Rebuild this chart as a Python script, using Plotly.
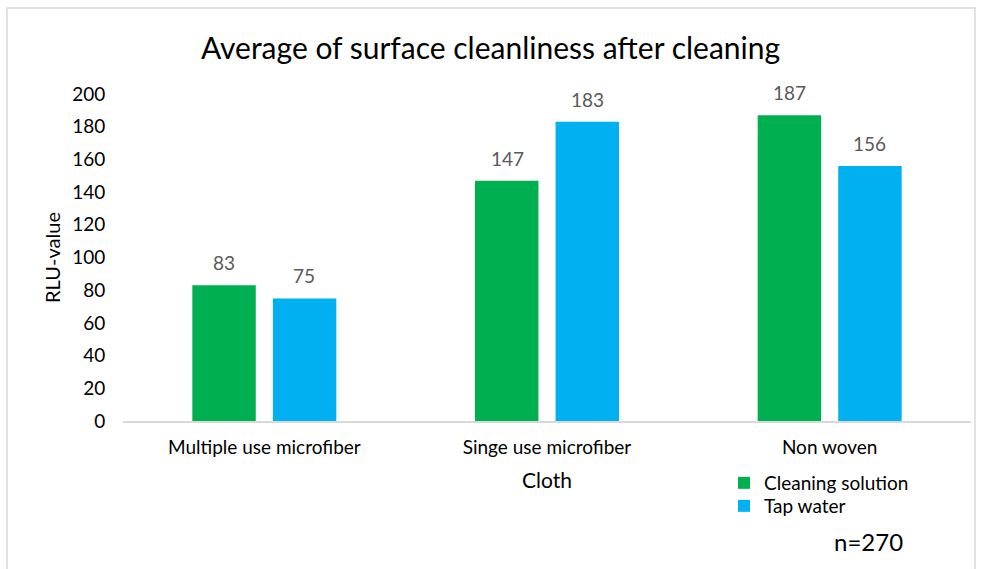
import plotly.graph_objects as go

categories = ["Multiple use microfiber", "Singe use microfiber", "Non woven"]
cleaning_solution = [83, 147, 187]
tap_water = [75, 183, 156]
y_ticks = [0, 20, 40, 60, 80, 100, 120, 140, 160, 180, 200]

FONT = "Lato"
fig = go.Figure()
fig.add_trace(go.Bar(name="Cleaning solution", x=categories, y=cleaning_solution,
                     marker=dict(color="#00B050", line=dict(width=0)), legend="legend"))
fig.add_trace(go.Bar(name="Tap water", x=categories, y=tap_water,
                     marker=dict(color="#00B0F0", line=dict(width=0)), legend="legend2"))

# data labels above each bar
for series, shift in ((cleaning_solution, -40), (tap_water, 40)):
    for cat, val in zip(categories, series):
        fig.add_annotation(x=cat, y=val, text=str(val), showarrow=False, xshift=shift,
                           yanchor="bottom", yshift=9,
                           font=dict(size=19, color="#595959", family=FONT))

leg_common = dict(xanchor="left", yanchor="middle", font=dict(size=19, color="#000000"),
                  bgcolor="rgba(0,0,0,0)", itemwidth=30, tracegroupgap=0)
fig.update_layout(
    width=981, height=569,
    margin=dict(l=123, r=10, t=94, b=148),
    paper_bgcolor="white", plot_bgcolor="white",
    font=dict(family=FONT, size=19, color="#000000"),
    barmode="group", bargap=0.43, bargroupgap=0.2125,
    title=dict(text="Average of surface cleanliness after cleaning", x=0.5, xanchor="center",
               y=1 - 48 / 569, yanchor="middle", font=dict(size=30, color="#000000", family=FONT)),
    xaxis=dict(showline=True, linecolor="#D9D9D9", linewidth=2, ticks="outside", ticklen=8,
               tickcolor="rgba(0,0,0,0)", tickfont=dict(size=19, color="#000000"),
               title=dict(text="Cloth", font=dict(size=21, color="#000000"), standoff=17),
               showgrid=False),
    yaxis=dict(range=[0, 200], tickvals=y_ticks, showgrid=False, zeroline=False, showline=False,
               ticks="outside", ticklen=13, tickcolor="rgba(0,0,0,0)",
               tickfont=dict(size=19, color="#000000"),
               title=dict(text="RLU-value", font=dict(size=20, color="#000000"), standoff=6)),
    legend=dict(x=(724 - 123) / 848, y=(421 - 483) / 327, **leg_common),
    legend2=dict(x=(724 - 123) / 848, y=(421 - 506) / 327, **leg_common),
    showlegend=True,
)
fig.add_annotation(text="n=270", x=(868 - 123) / 848, y=(421 - 541) / 327, xref="paper", yref="paper",
                   showarrow=False, font=dict(size=24, color="#000000"), xanchor="center", yanchor="middle")
fig.add_shape(type="rect", xref="paper", yref="paper",
              x0=(7 - 123) / 848, x1=(975 - 123) / 848, y0=(421 - 590) / 327, y1=(421 - 8) / 327,
              line=dict(color="#D9D9D9", width=1.5), fillcolor="rgba(0,0,0,0)", layer="below")
fig.write_html("out.html")
